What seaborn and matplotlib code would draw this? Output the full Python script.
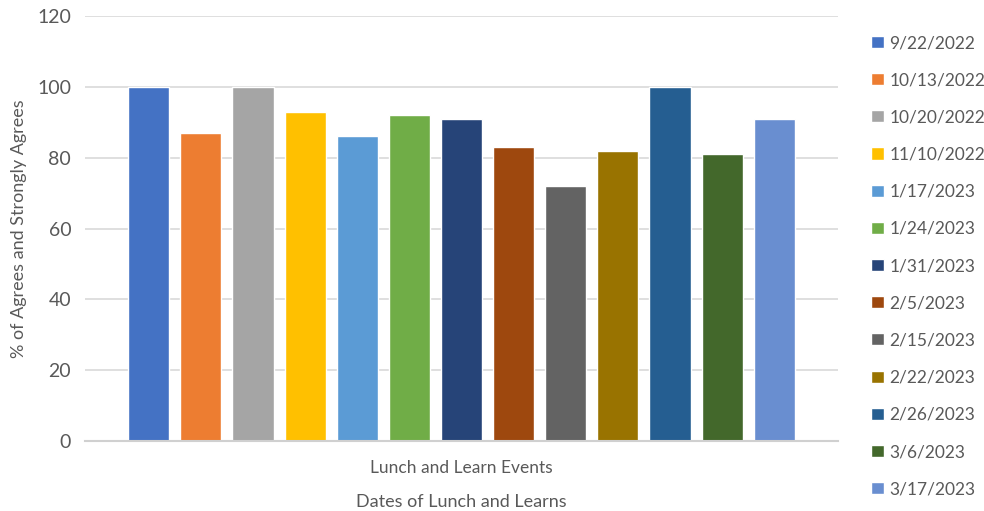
import matplotlib
matplotlib.use("Agg")
import matplotlib.pyplot as plt
import seaborn as sns
import pandas as pd

# Survey results per Lunch and Learn session
dates = ["9/22/2022", "10/13/2022", "10/20/2022", "11/10/2022", "1/17/2023",
         "1/24/2023", "1/31/2023", "2/5/2023", "2/15/2023", "2/22/2023",
         "2/26/2023", "3/6/2023", "3/17/2023"]
pct_agree = [100, 87, 100, 93, 86, 92, 91, 83, 72, 82, 100, 81, 91]
category = ["Lunch and Learn Events"]
y_ticks = [0, 20, 40, 60, 80, 100, 120]

colors = ["#4472C4", "#ED7D31", "#A5A5A5", "#FFC000", "#5B9BD5", "#70AD47",
          "#264478", "#9E480E", "#636363", "#997300", "#255E91", "#43682B",
          "#698ED0"]

df = pd.DataFrame({"event": category * len(dates), "date": dates, "pct": pct_agree})

sns.set_theme(style="white")
plt.rcParams["font.family"] = ["Lato", "DejaVu Sans"]
text_color = "#595959"

fig = plt.figure(figsize=(9.84, 5.11), dpi=100)
ax = fig.add_axes([0.0864, 0.137, 0.7652, 0.8316])

sns.barplot(data=df, x="event", y="pct", hue="date", hue_order=dates,
            palette=colors, width=0.9, gap=0.21, saturation=1,
            errorbar=None, ax=ax, legend=True)

ax.set_xlim(-0.5, 0.5)
ax.set_ylim(0, 120)
ax.set_yticks(y_ticks)
ax.yaxis.grid(True, color="#D9D9D9", linewidth=1.2)
ax.set_axisbelow(True)
for side in ["top", "right", "left"]:
    ax.spines[side].set_visible(False)
ax.spines["bottom"].set_color("#D0D0D0")
ax.spines["bottom"].set_linewidth(1.5)
ax.tick_params(axis="both", length=0, colors=text_color)
ax.tick_params(axis="y", pad=10, labelsize=14)
ax.tick_params(axis="x", pad=14, labelsize=12.5)

ax.set_ylabel("% of Agrees and Strongly Agrees", color=text_color, fontsize=13, labelpad=7)
ax.set_xlabel("Dates of Lunch and Learns", color=text_color, fontsize=13, labelpad=13)

handles, labels = ax.get_legend_handles_labels()
ax.get_legend().remove()
fig.legend(handles, labels, loc="upper left", bbox_to_anchor=(0.8785, 0.945),
           frameon=False, fontsize=12.5, labelcolor=text_color,
           handlelength=0.7, handleheight=0.7, handletextpad=0.35,
           labelspacing=1.22, borderaxespad=0)

fig.savefig("out.png", dpi=100)
